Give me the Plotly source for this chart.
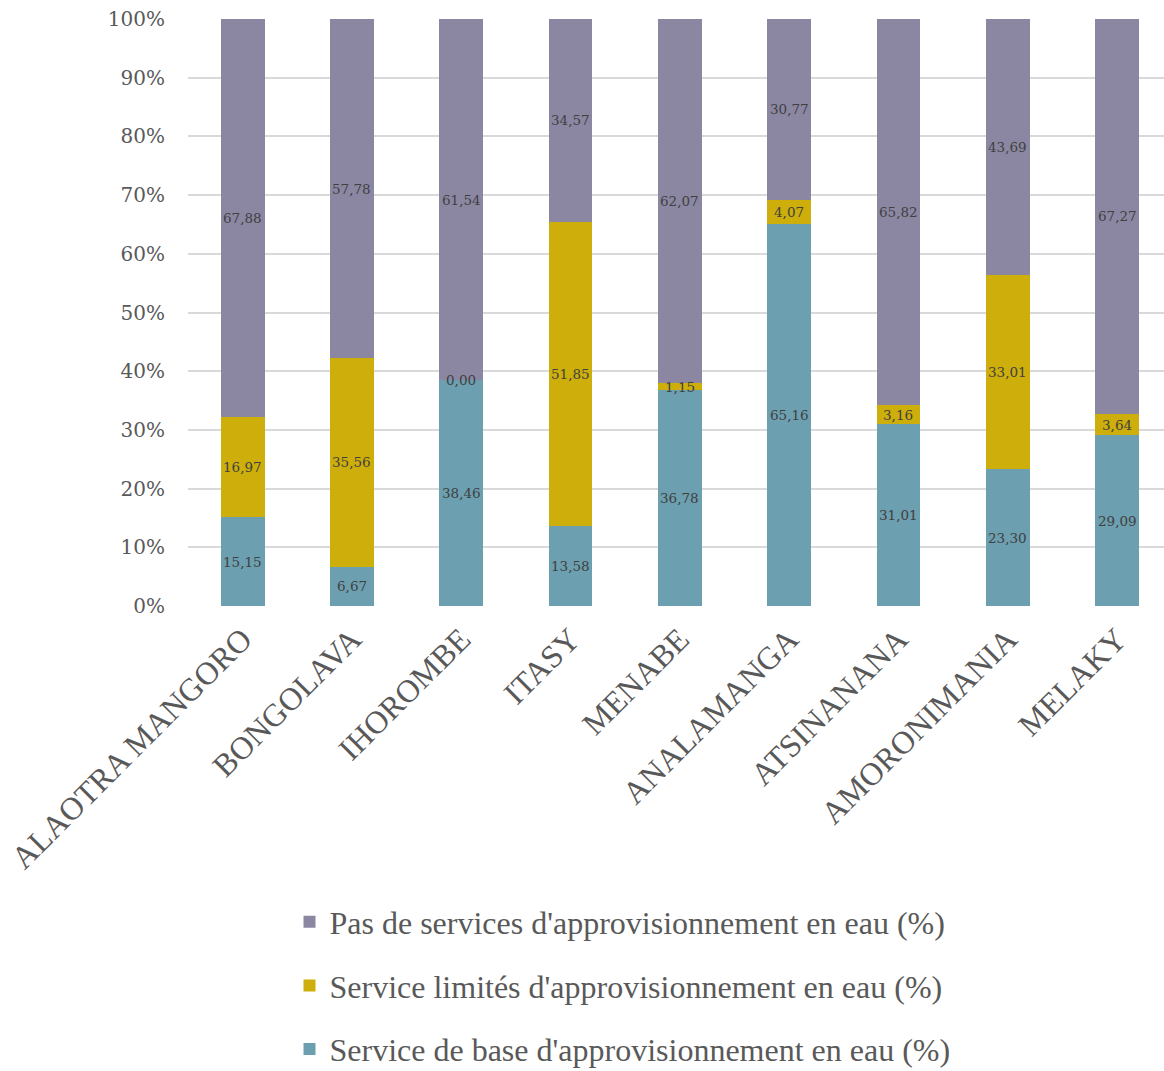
import plotly.graph_objects as go

# Regions and water-supply service shares (%)
regions = ["ALAOTRA MANGORO", "BONGOLAVA", "IHOROMBE", "ITASY", "MENABE",
           "ANALAMANGA", "ATSINANANA", "AMORONIMANIA", "MELAKY"]
service_base = [15.15, 6.67, 38.46, 13.58, 36.78, 65.16, 31.01, 23.30, 29.09]
service_limites = [16.97, 35.56, 0.00, 51.85, 1.15, 4.07, 3.16, 33.01, 3.64]
pas_de_services = [67.88, 57.78, 61.54, 34.57, 62.07, 30.77, 65.82, 43.69, 67.27]

series = [
    ("Service de base d'approvisionnement en eau (%)", service_base, "#6C9FB0", 3),
    ("Service limités d'approvisionnement en eau (%)", service_limites, "#CDAE0B", 2),
    ("Pas de services d'approvisionnement en eau (%)", pas_de_services, "#8B87A3", 1),
]

y_ticks = list(range(0, 101, 10))
y_ticktext = [f"{v}%" for v in y_ticks]

fig = go.Figure()
annotations = []
base = [0.0] * len(regions)
for name, vals, color, rank in series:
    fig.add_trace(go.Bar(
        x=list(range(len(regions))), y=vals, name=name,
        marker=dict(color=color, line=dict(width=0)),
        width=0.4, legendgroup=name, legendrank=rank,
        hoverinfo="skip",
    ))
    # value labels centred in each stacked segment
    for i, v in enumerate(vals):
        annotations.append(dict(
            x=i, y=base[i] + v / 2, xref="x", yref="y",
            text=f"{v:.2f}".replace(".", ","), showarrow=False,
            font=dict(family="DejaVu Serif", size=13.5, color="#404040"),
        ))
        base[i] += v

fig.update_layout(
    barmode="stack",
    width=1164, height=1071,
    margin=dict(l=188, r=0, t=19, b=465, autoexpand=False),
    paper_bgcolor="white", plot_bgcolor="white",
    annotations=annotations,
    xaxis=dict(
        range=[-0.5, 8.43],
        tickmode="array", tickvals=list(range(len(regions))), ticktext=regions,
        tickangle=-45,
        tickfont=dict(family="Liberation Serif", size=32, color="#595959"),
        showgrid=False, showline=False, ticks="", zeroline=False,
        ticklabelstandoff=7,
    ),
    yaxis=dict(
        range=[0, 100], tickmode="array", tickvals=y_ticks, ticktext=y_ticktext,
        tickfont=dict(family="DejaVu Serif", size=20, color="#595959"),
        showgrid=True, gridcolor="#D9D9D9", gridwidth=2,
        zeroline=False, showline=False, ticks="", ticklabelstandoff=22,
    ),
    legend=dict(
        x=0.104, y=-0.4915, xanchor="left", yanchor="top",
        traceorder="grouped", tracegroupgap=19,
        font=dict(family="Liberation Serif", size=32, color="#595959"),
    ),
    showlegend=True,
)

fig.write_html("out.html")
